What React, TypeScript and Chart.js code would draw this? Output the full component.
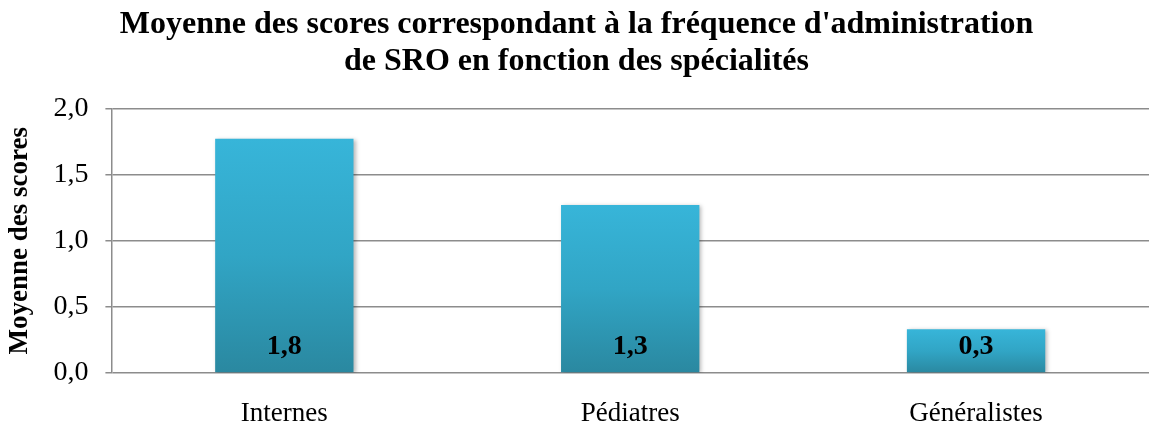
import React, { useEffect, useRef } from "react";
import { Chart, registerables } from "chart.js";

Chart.register(...registerables);

const categories = ["Internes", "Pédiatres", "Généralistes"];
const scores = [1.77, 1.27, 0.33];
const valueLabels = ["1,8", "1,3", "0,3"];
const yTicks = [0, 0.5, 1, 1.5, 2];
const titleLines = [
  "Moyenne des scores correspondant à la fréquence d'administration",
  "de SRO en fonction des spécialités",
];
const yTitle = "Moyenne des scores";

const FONT = "'Liberation Serif', 'Times New Roman', serif";

const barLabelPlugin = {
  id: "barLabels",
  beforeDatasetsDraw(chart: any) {
    const ctx = chart.ctx;
    ctx.save();
    ctx.shadowColor = "rgba(0,0,0,0.28)";
    ctx.shadowBlur = 4;
    ctx.shadowOffsetX = 2;
    ctx.shadowOffsetY = 1;
  },
  afterDatasetsDraw(chart: any) {
    const ctx = chart.ctx;
    ctx.restore();
    const meta = chart.getDatasetMeta(0);
    ctx.save();
    ctx.font = `bold 28px ${FONT}`;
    ctx.fillStyle = "#000";
    ctx.textAlign = "center";
    ctx.textBaseline = "middle";
    meta.data.forEach((bar: any, i: number) => {
      ctx.fillText(valueLabels[i], bar.x, bar.base - 25);
    });
    ctx.restore();
  },
};

export default function App() {
  const ref = useRef<HTMLCanvasElement>(null);
  useEffect(() => {
    document.body.style.margin = "0";
    const canvas = ref.current!;
    const chart = new Chart(canvas, {
      type: "bar",
      data: {
        labels: categories,
        datasets: [
          {
            data: scores,
            barPercentage: 0.8,
            categoryPercentage: 0.5,
            backgroundColor: (c: any) => {
              const ch = c.chart;
              const y = ch.scales && ch.scales.y;
              if (!y || !c.parsed) return "#33a8c9";
              const top = y.getPixelForValue(c.parsed.y);
              const bottom = y.getPixelForValue(0);
              if (!Number.isFinite(top) || !Number.isFinite(bottom) || top === bottom) return "#33a8c9";
              const g = ch.ctx.createLinearGradient(0, top, 0, bottom);
              g.addColorStop(0, "#37b5d9");
              g.addColorStop(0.5, "#31a5c5");
              g.addColorStop(1, "#2a88a0");
              return g;
            },
            borderWidth: 0,
          },
        ],
      },
      options: {
        responsive: false,
        animation: false,
        layout: { padding: { top: 0, right: 0, bottom: 0, left: 4 } },
        plugins: {
          legend: { display: false },
          tooltip: { enabled: false },
          title: {
            display: true,
            text: titleLines,
            color: "#000",
            font: { family: FONT, size: 32, weight: "bold", lineHeight: 1.13 },
            padding: { top: 7, bottom: 29 },
          },
        },
        scales: {
          x: {
            grid: { display: false, drawTicks: false },
            border: { display: false },
            ticks: {
              color: "#000",
              font: { family: FONT, size: 27 },
              padding: 25,
            },
            afterFit: (s: any) => {
              s.height = 54;
            },
          },
          y: {
            min: 0,
            max: 2,
            afterBuildTicks: (s: any) => {
              s.ticks = yTicks.map((v) => ({ value: v }));
            },
            grid: {
              color: "#8c8c8c",
              lineWidth: 1.5,
              tickLength: 6,
            },
            border: { color: "#8c8c8c", width: 1.5 },
            ticks: {
              color: "#000",
              font: { family: FONT, size: 28 },
              padding: 17,
              callback: (v: any) => Number(v).toFixed(1).replace(".", ","),
            },
            title: {
              display: true,
              text: yTitle,
              color: "#000",
              font: { family: FONT, size: 27, weight: "bold" },
              padding: { top: 0, bottom: 0 },
            },
          },
        },
      },
      plugins: [barLabelPlugin],
    });
    return () => chart.destroy();
  }, []);
  return <canvas ref={ref} width={1149} height={427} style={{ display: "block" }} />;
}
